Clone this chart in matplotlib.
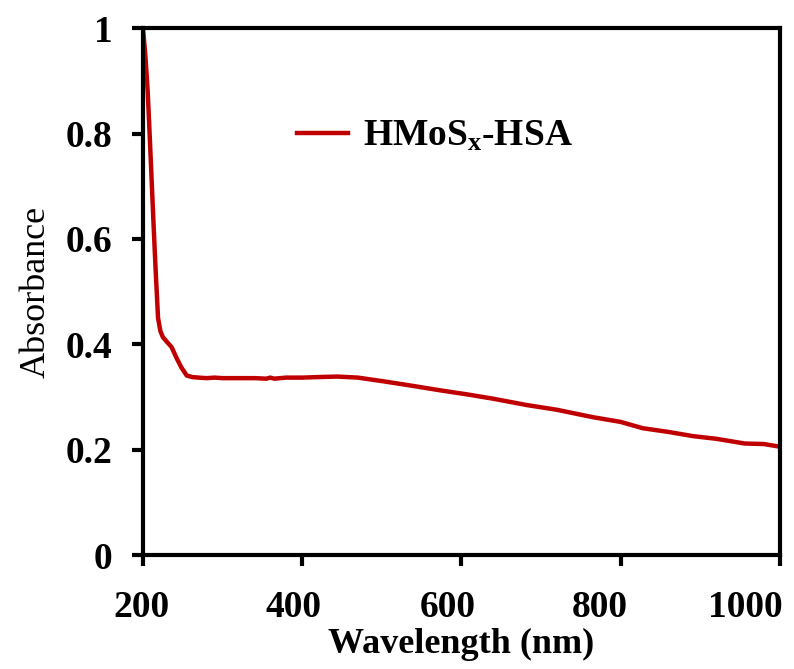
import matplotlib
matplotlib.use('Agg')
import matplotlib.pyplot as plt
import matplotlib.transforms as mtransforms

# UV-vis spectrum
wavelength = [198, 200, 203, 206, 209, 213, 216, 219, 222, 225, 230, 236, 242, 248, 255,
              262, 270, 280, 290, 300, 320, 340, 355, 360, 365, 380, 400, 420, 444, 470,
              502, 532, 573, 608, 640, 682, 720, 765, 800, 828, 860, 891, 920, 956, 980, 1000]
absorbance = [1.05, 1.0, 0.95, 0.88, 0.78, 0.64, 0.54, 0.45, 0.425, 0.414, 0.405, 0.395, 0.375, 0.357, 0.341,
              0.338, 0.337, 0.336, 0.337, 0.336, 0.336, 0.336, 0.335, 0.337, 0.335, 0.337, 0.337, 0.338, 0.339, 0.337,
              0.330, 0.323, 0.313, 0.305, 0.297, 0.285, 0.276, 0.262, 0.253, 0.241, 0.234, 0.226, 0.221, 0.212, 0.211, 0.206]

x_ticks = [200, 400, 600, 800, 1000]
y_ticks = [0, 0.2, 0.4, 0.6, 0.8, 1]
y_tick_labels = ['0', '0.2', '0.4', '0.6', '0.8', '1']

plt.rcParams['font.family'] = 'Liberation Serif'
plt.rcParams['mathtext.fontset'] = 'custom'
plt.rcParams['mathtext.rm'] = 'Liberation Serif:bold'
plt.rcParams['mathtext.it'] = 'Liberation Serif:bold'

fig = plt.figure(figsize=(7.94, 6.69), dpi=100)
ax = fig.add_axes([0.180, 0.170, 0.802, 0.788])

ax.plot(wavelength, absorbance, color='#C00000', lw=3.2, label='HMoS$_{\\rm x}$-HSA')

ax.set_xlim(200, 1000)
ax.set_ylim(0, 1)
ax.set_xticks(x_ticks)
ax.set_yticks(y_ticks)
ax.set_yticklabels(y_tick_labels)

for s in ax.spines.values():
    s.set_linewidth(3)
ax.tick_params(direction='out', length=8, width=3, labelsize=27)
ax.tick_params(axis='y', pad=14)
ax.tick_params(axis='x', pad=17)
for lab in ax.get_xticklabels() + ax.get_yticklabels():
    lab.set_fontweight('bold')

# the x tick labels in the original sit a little left of their ticks
shifts = [-1.4, -6.5, -10, -15, -24.5]
for lab, dx in zip(ax.get_xticklabels(), shifts):
    lab.set_transform(lab.get_transform() + mtransforms.ScaledTranslation(dx / 72, 0, fig.dpi_scale_trans))

ax.set_xlabel('Wavelength (nm)', fontsize=26, fontweight='bold', labelpad=2)
ax.set_ylabel('Absorbance', fontsize=26, labelpad=9)

ax.legend(loc='center left', bbox_to_anchor=(0.242, 0.795), frameon=False,
          handlelength=1.35, handletextpad=0.4, borderpad=0,
          borderaxespad=0, prop={'weight': 'bold', 'size': 27})

fig.savefig('out.png', dpi=100)
